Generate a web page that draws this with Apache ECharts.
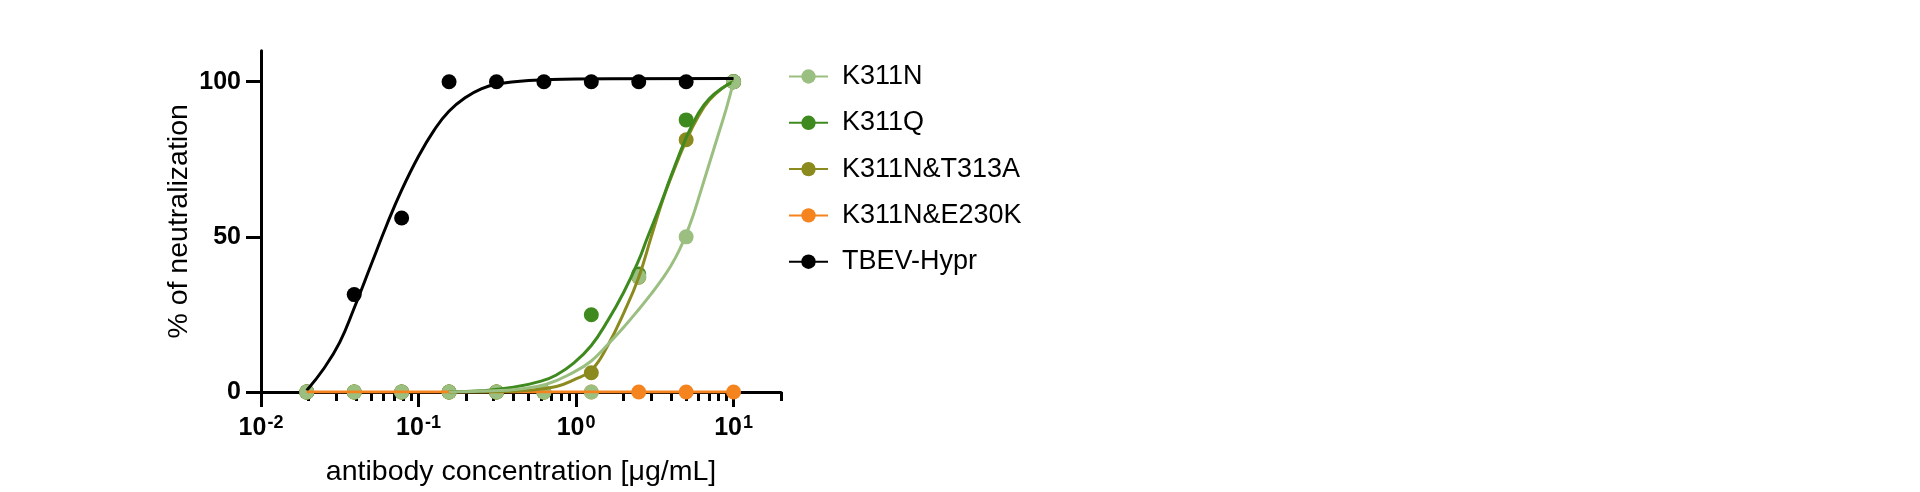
<!DOCTYPE html>
<html><head><meta charset="utf-8">
<script src="https://cdn.jsdelivr.net/npm/echarts@6/dist/echarts.min.js"></script>
<style>html,body{margin:0;padding:0;background:#fff}#c{width:1920px;height:492px}</style>
</head><body><div id="c"></div>
<script>
// ---- data ----
const concentrations = [0.01953, 0.03906, 0.07813, 0.15625, 0.3125, 0.625, 1.25, 2.5, 5, 10];
const seriesNames = ['K311N', 'K311Q', 'K311N&T313A', 'K311N&E230K', 'TBEV-Hypr'];

const k311nPoints = [0, 0, 0, 0, 0, 0, 0, 37.2, 50, 100];
const k311qPoints = [0, 0, 0, 0, 0, 0, 24.9, 38, 87.7, 100];
const t313aPoints = [0, 0, 0, 0, 0, 0, 6.2, 37, 81.3, 100];
const e230kPoints = [0, 0, 0, 0, 0, 0, 0, 0, 0, 0];
const tbevPoints  = [0, 31.4, 56.1, 100, 100, 100, 100, 100, 100, 100];

// fitted curves
const tbevCurveX = [0.0195, 0.025, 0.0316, 0.039, 0.05, 0.063, 0.078, 0.1, 0.126, 0.156, 0.2, 0.25, 0.3125, 0.5, 1, 10];
const tbevCurveY = [0.5, 7.5, 16, 27, 41, 54, 65, 76, 84.5, 90.5, 95, 97.7, 99.2, 100.4, 100.9, 101];

const k311nCurveX = [0.156, 0.3, 0.41, 0.64, 0.975, 1.25, 1.59, 2.0, 2.5, 3.0, 3.5, 4.0, 4.5, 5.0, 5.5, 6.0, 7.0, 8.0, 9.0, 10];
const k311nCurveY = [0, 0.4, 0.8, 2.4, 6.5, 10, 15.3, 20.8, 26.6, 31.6, 36.2, 40.7, 45.5, 50.8, 56.5, 62.5, 73.5, 83, 91.4, 100];

const k311qCurveX = [0.156, 0.25, 0.4, 0.6, 0.75, 0.975, 1.25, 1.59, 2.0, 2.5, 2.8, 3.15, 3.5, 4.0, 5.0, 6.0, 7.0, 8.5, 10];
const k311qCurveY = [0, 0.4, 1.5, 3.5, 5.5, 9.5, 15, 23, 32, 42.5, 49, 55.5, 61.5, 69.5, 82, 90, 94.5, 98, 100];

const t313aCurveX = [0.156, 0.3, 0.5, 0.75, 0.975, 1.25, 1.59, 2.03, 2.5, 3.0, 3.56, 4.0, 5.0, 6.0, 7.0, 8.5, 10];
const t313aCurveY = [0, 0.1, 0.6, 1.8, 4, 7, 15, 26, 37, 50, 62, 69, 81, 89, 94, 98, 100];

const e230kCurveX = [0.0195, 10];
const e230kCurveY = [0, 0];

// axis ticks
const xMajorTicks = [0.01, 0.1, 1, 10];
const xTickExponents = ['-2', '-1', '0', '1'];
const xMinorTicks = [0.02, 0.03, 0.04, 0.05, 0.06, 0.07, 0.08, 0.09,
                     0.2, 0.3, 0.4, 0.5, 0.6, 0.7, 0.8, 0.9,
                     2, 3, 4, 5, 6, 7, 8, 9, 20];
const yTicks = [0, 50, 100];

// ---- chart ----
const FONT = 'Liberation Sans, Arial, sans-serif';
const colors = {
  'K311N': '#9BBF80',
  'K311Q': '#3F8A1E',
  'K311N&T313A': '#8A8A1E',
  'K311N&E230K': '#F5841F',
  'TBEV-Hypr': '#000000'
};
const pair = (xs, ys) => xs.map((x, i) => [x, ys[i]]);

const datasets = [
  { name: 'TBEV-Hypr', cx: tbevCurveX, cy: tbevCurveY, pts: tbevPoints },
  { name: 'K311N&E230K', cx: e230kCurveX, cy: e230kCurveY, pts: e230kPoints },
  { name: 'K311N&T313A', cx: t313aCurveX, cy: t313aCurveY, pts: t313aPoints },
  { name: 'K311Q', cx: k311qCurveX, cy: k311qCurveY, pts: k311qPoints },
  { name: 'K311N', cx: k311nCurveX, cy: k311nCurveY, pts: k311nPoints }
];

const series = [];
datasets.forEach(d => {
  const c = colors[d.name];
  series.push({
    name: d.name, type: 'line', xAxisIndex: 0, yAxisIndex: 0,
    data: pair(d.cx, d.cy), symbol: 'none', showSymbol: false,
    smooth: 0.45,
    lineStyle: { color: c, width: 3 }, itemStyle: { color: c },
    silent: true
  });
  series.push({
    name: d.name, type: 'scatter', xAxisIndex: 0, yAxisIndex: 0,
    data: pair(concentrations, d.pts), symbol: 'circle', symbolSize: 15,
    itemStyle: { color: c, opacity: 1 }, silent: true
  });
});

const axisLineStyle = { color: '#000', width: 3 };
const xLabelFormatter = v => {
  const i = xMajorTicks.findIndex(t => Math.abs(Math.log10(t) - Math.log10(v)) < 1e-6);
  return i < 0 ? '' : '{b|10}{s|' + xTickExponents[i] + '}';
};

const option = {
  animation: false,
  backgroundColor: '#fff',
  grid: { left: 261, right: 1139, top: 50.7, bottom: 97.7, containLabel: false },
  legend: {
    data: seriesNames,
    orient: 'vertical',
    left: 783, top: 58,
    itemWidth: 39, itemHeight: 18, itemGap: 19.3,
    textStyle: { fontFamily: FONT, fontSize: 27, lineHeight: 27, color: '#000', padding: [0, 0, 0, 9] }
  },
  xAxis: [{
    type: 'log', logBase: 10, min: 0.01, max: 20, position: 'bottom',
    axisLine: { show: true, onZero: false, lineStyle: axisLineStyle },
    axisTick: { show: true, customValues: xMajorTicks, length: 15, lineStyle: axisLineStyle },
    axisLabel: {
      customValues: xMajorTicks, margin: 22, formatter: xLabelFormatter,
      rich: {
        b: { fontFamily: FONT, fontSize: 25, fontWeight: 'bold', color: '#000', lineHeight: 28 },
        s: { fontFamily: FONT, fontSize: 18, fontWeight: 'bold', color: '#000', lineHeight: 19, verticalAlign: 'top', padding: [0, 0, 0, 1] }
      }
    },
    splitLine: { show: false },
    name: 'antibody concentration [μg/mL]', nameLocation: 'middle', nameGap: 66,
    nameTextStyle: { fontFamily: FONT, fontSize: 28.5, color: '#000' }
  }, {
    type: 'log', logBase: 10, min: 0.01, max: 20, position: 'bottom', gridIndex: 0,
    axisLine: { show: false, onZero: false },
    axisTick: { show: true, customValues: xMinorTicks, length: 9, lineStyle: axisLineStyle },
    axisLabel: { show: false },
    splitLine: { show: false }
  }],
  yAxis: {
    type: 'value', min: 0, max: 110, interval: 50,
    axisLine: { show: true, onZero: false, lineStyle: axisLineStyle },
    axisTick: { show: true, customValues: yTicks, length: 15, lineStyle: axisLineStyle },
    axisLabel: {
      customValues: yTicks, margin: 20,
      fontFamily: FONT, fontSize: 25, fontWeight: 'bold', color: '#000',
      formatter: v => (yTicks.indexOf(v) >= 0 ? String(v) : '')
    },
    splitLine: { show: false },
    name: '% of neutralization', nameLocation: 'middle', nameGap: 67,
    nameTextStyle: { fontFamily: FONT, fontSize: 28.5, color: '#000' }
  },
  series: series
};

const chart = echarts.init(document.getElementById('c'), null, { renderer: 'canvas' });
chart.setOption(option);
</script>
</body></html>
